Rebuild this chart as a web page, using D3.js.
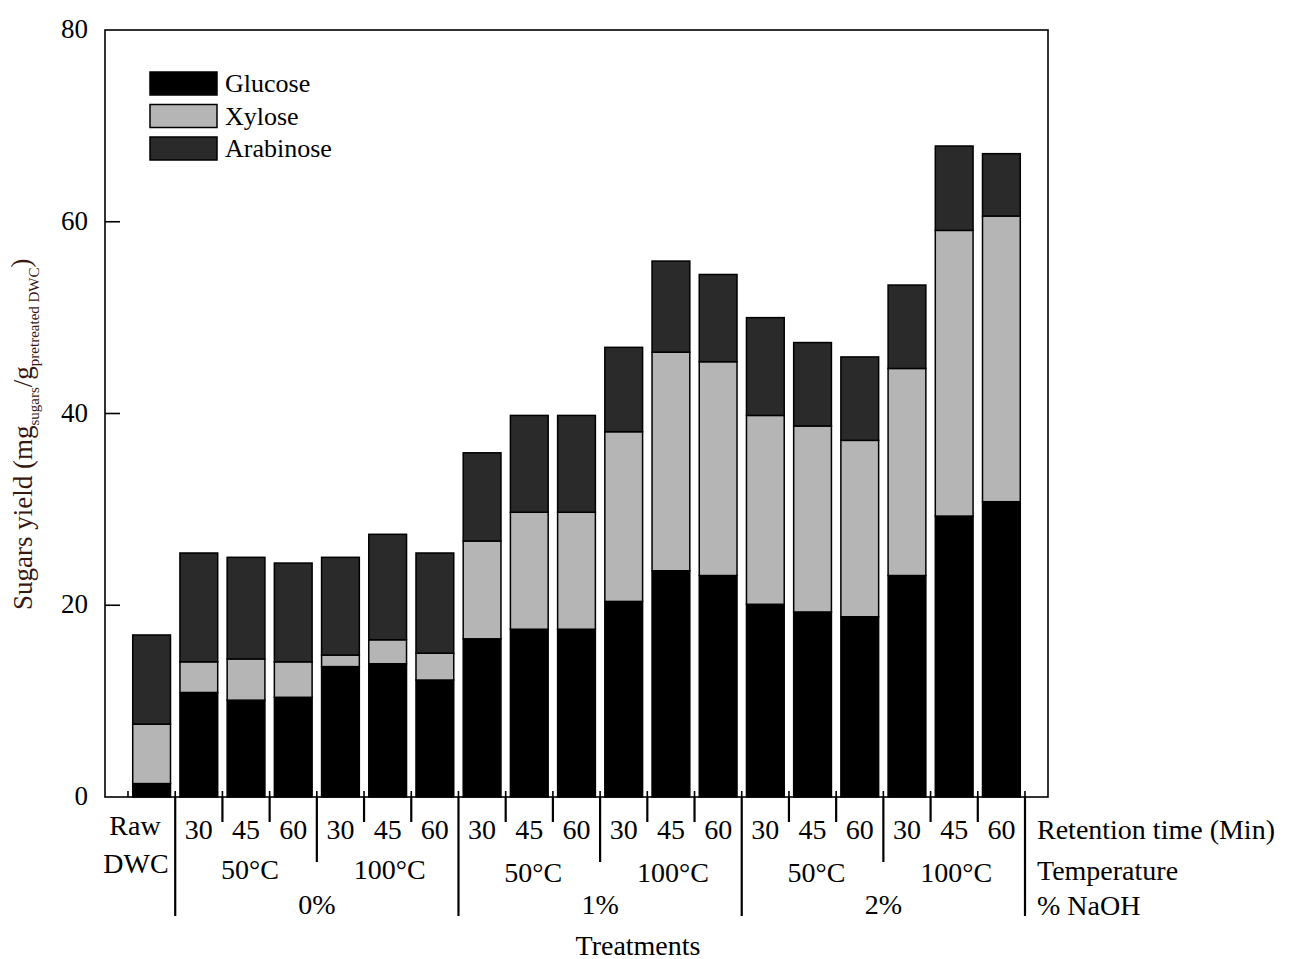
<!DOCTYPE html>
<meta charset="utf-8">
<title>Sugars yield</title>
<style>
    body { margin: 0; background: #fff; }
    svg text { font-family: "Liberation Serif", "Times New Roman", serif; fill: #000; }
    .frame { fill: none; stroke: #000; stroke-width: 1.6; }
    .bar { stroke: #000; stroke-width: 1.5; }
    .tick-line { stroke: #000; stroke-width: 2.2; }
</style>
<body>
<svg width="1289" height="959"></svg>
<script src="https://d3js.org/d3.v7.min.js"></script>
<script>
    // data
    var categories = ["Raw",
        "0-50-30", "0-50-45", "0-50-60", "0-100-30", "0-100-45", "0-100-60",
        "1-50-30", "1-50-45", "1-50-60", "1-100-30", "1-100-45", "1-100-60",
        "2-50-30", "2-50-45", "2-50-60", "2-100-30", "2-100-45", "2-100-60"];
    var glucose   = [1.4, 10.9, 10.1, 10.4, 13.6, 13.9, 12.2, 16.5, 17.5, 17.5, 20.4, 23.6, 23.1, 20.1, 19.3, 18.8, 23.1, 29.3, 30.8];
    var xylose    = [6.2, 3.2, 4.3, 3.7, 1.2, 2.5, 2.8, 10.2, 12.2, 12.2, 17.7, 22.8, 22.3, 19.7, 19.4, 18.4, 21.6, 29.8, 29.8];
    var arabinose = [9.3, 11.35, 10.6, 10.3, 10.2, 11.0, 10.45, 9.2, 10.1, 10.1, 8.8, 9.5, 9.1, 10.2, 8.7, 8.7, 8.7, 8.8, 6.5];
    var series = ["Glucose", "Xylose", "Arabinose"];
    var colors = ["#000000", "#b5b5b5", "#2a2a2a"];
    var yTicks = [0, 20, 40, 60, 80];
    var timeLabels = ["30", "45", "60"];
    var tempLabels = ["50°C", "100°C"];
    var naohLabels = ["0%", "1%", "2%"];

    var svg = d3.select("svg");
    var plotLeft = 105, plotRight = 1048, plotTop = 30, plotBottom = 797;

    var y = d3.scaleLinear().domain([0, 80]).range([plotBottom, plotTop]);
    var x = d3.scaleBand().domain(categories).range([128, 1025])
        .paddingInner(0.2).paddingOuter(0.1);
    var step = x.step();
    function boundary(i) { return 128 + i * step; }

    // stacked bars
    var table = categories.map(function(c, i) {
        return {cat: c, Glucose: glucose[i], Xylose: xylose[i], Arabinose: arabinose[i]};
    });
    var stack = d3.stack().keys(series)(table);
    svg.append("g").selectAll("g")
        .data(stack)
        .enter().append("g")
        .attr("fill", function(d, i) { return colors[i]; })
        .selectAll("rect")
        .data(function(d) { return d; })
        .enter().append("rect")
        .attr("class", "bar")
        .attr("x", function(d) { return x(d.data.cat); })
        .attr("width", x.bandwidth())
        .attr("y", function(d) { return y(d[1]); })
        .attr("height", function(d) { return y(d[0]) - y(d[1]); });

    // frame
    svg.append("rect").attr("class", "frame")
        .attr("x", plotLeft).attr("y", plotTop)
        .attr("width", plotRight - plotLeft).attr("height", plotBottom - plotTop);

    // y axis ticks + labels
    var yg = svg.append("g");
    yg.selectAll("line").data(yTicks.slice(1, -1)).enter().append("line")
        .attr("class", "tick-line").style("stroke-width", 1.6)
        .attr("x1", plotLeft).attr("x2", plotLeft + 15)
        .attr("y1", function(d) { return y(d); }).attr("y2", function(d) { return y(d); });
    yg.selectAll("text").data(yTicks).enter().append("text")
        .attr("x", 88).attr("y", function(d) { return y(d); })
        .attr("dy", "0.3em")
        .attr("text-anchor", "end")
        .style("font-size", "27px")
        .text(function(d) { return d; });

    // y axis title
    var yt = svg.append("text")
        .attr("transform", "translate(32,610) rotate(-90)")
        .style("font-size", "27px")
        .style("fill", "#3a1812");
    yt.append("tspan").text("Sugars yield (mg");
    yt.append("tspan").attr("dy", 7).style("font-size", "15px").text("sugars");
    yt.append("tspan").attr("dy", -7).text("/g");
    yt.append("tspan").attr("dy", 7).style("font-size", "15px").text("pretreated DWC");
    yt.append("tspan").attr("dy", -9).text(")");

    // bottom axis ticks
    var bg = svg.append("g");
    var boundaries = d3.range(categories.length + 1);
    bg.selectAll("line.in").data(boundaries).enter().append("line")
        .attr("class", "tick-line").style("stroke-width", 1.6)
        .attr("x1", boundary).attr("x2", boundary)
        .attr("y1", plotBottom).attr("y2", plotBottom - 6);
    function tickEnd(i) {
        if ((i - 1) % 6 === 0) return 916;
        if ((i - 1) % 3 === 0) return 862;
        return 822;
    }
    bg.selectAll("line.out").data(boundaries.slice(1)).enter().append("line")
        .attr("class", "tick-line")
        .attr("x1", boundary).attr("x2", boundary)
        .attr("y1", plotBottom).attr("y2", tickEnd);

    // retention time row
    var labels = svg.append("g").style("font-size", "28px").attr("text-anchor", "middle");
    categories.slice(1).forEach(function(c, i) {
        labels.append("text")
            .attr("x", x(c) + x.bandwidth() / 2).attr("y", 839)
            .text(timeLabels[i % 3]);
    });
    labels.append("text").attr("x", 135).attr("y", 835).text("Raw");
    labels.append("text").attr("x", 136).attr("y", 873).text("DWC");

    // temperature row
    for (var g = 0; g < 6; g++) {
        var a = boundary(1 + g * 3), b = boundary(4 + g * 3);
        labels.append("text")
            .attr("x", (a + b) / 2 + (g % 2 === 0 ? 4 : 2))
            .attr("y", g < 2 ? 879 : 882)
            .text(tempLabels[g % 2]);
    }
    // NaOH row
    naohLabels.forEach(function(t, i) {
        var a = boundary(1 + i * 6), b = boundary(7 + i * 6);
        labels.append("text").attr("x", (a + b) / 2).attr("y", 914).text(t);
    });

    // row names
    var names = svg.append("g").style("font-size", "28px");
    names.append("text").attr("x", 1037).attr("y", 839).text("Retention time (Min)");
    names.append("text").attr("x", 1037).attr("y", 880).text("Temperature");
    names.append("text").attr("x", 1037).attr("y", 915).text("% NaOH");

    svg.append("text").attr("x", 638).attr("y", 955)
        .attr("text-anchor", "middle").style("font-size", "28px")
        .text("Treatments");

    // legend
    var lg = svg.append("g");
    series.forEach(function(s, i) {
        var yy = 72 + i * 32.5;
        lg.append("rect").attr("class", "bar")
            .attr("x", 150).attr("y", yy).attr("width", 67).attr("height", 23)
            .attr("fill", colors[i]);
        lg.append("text").attr("x", 225).attr("y", yy + 20)
            .style("font-size", "26px").text(s);
    });
</script>
</body>
